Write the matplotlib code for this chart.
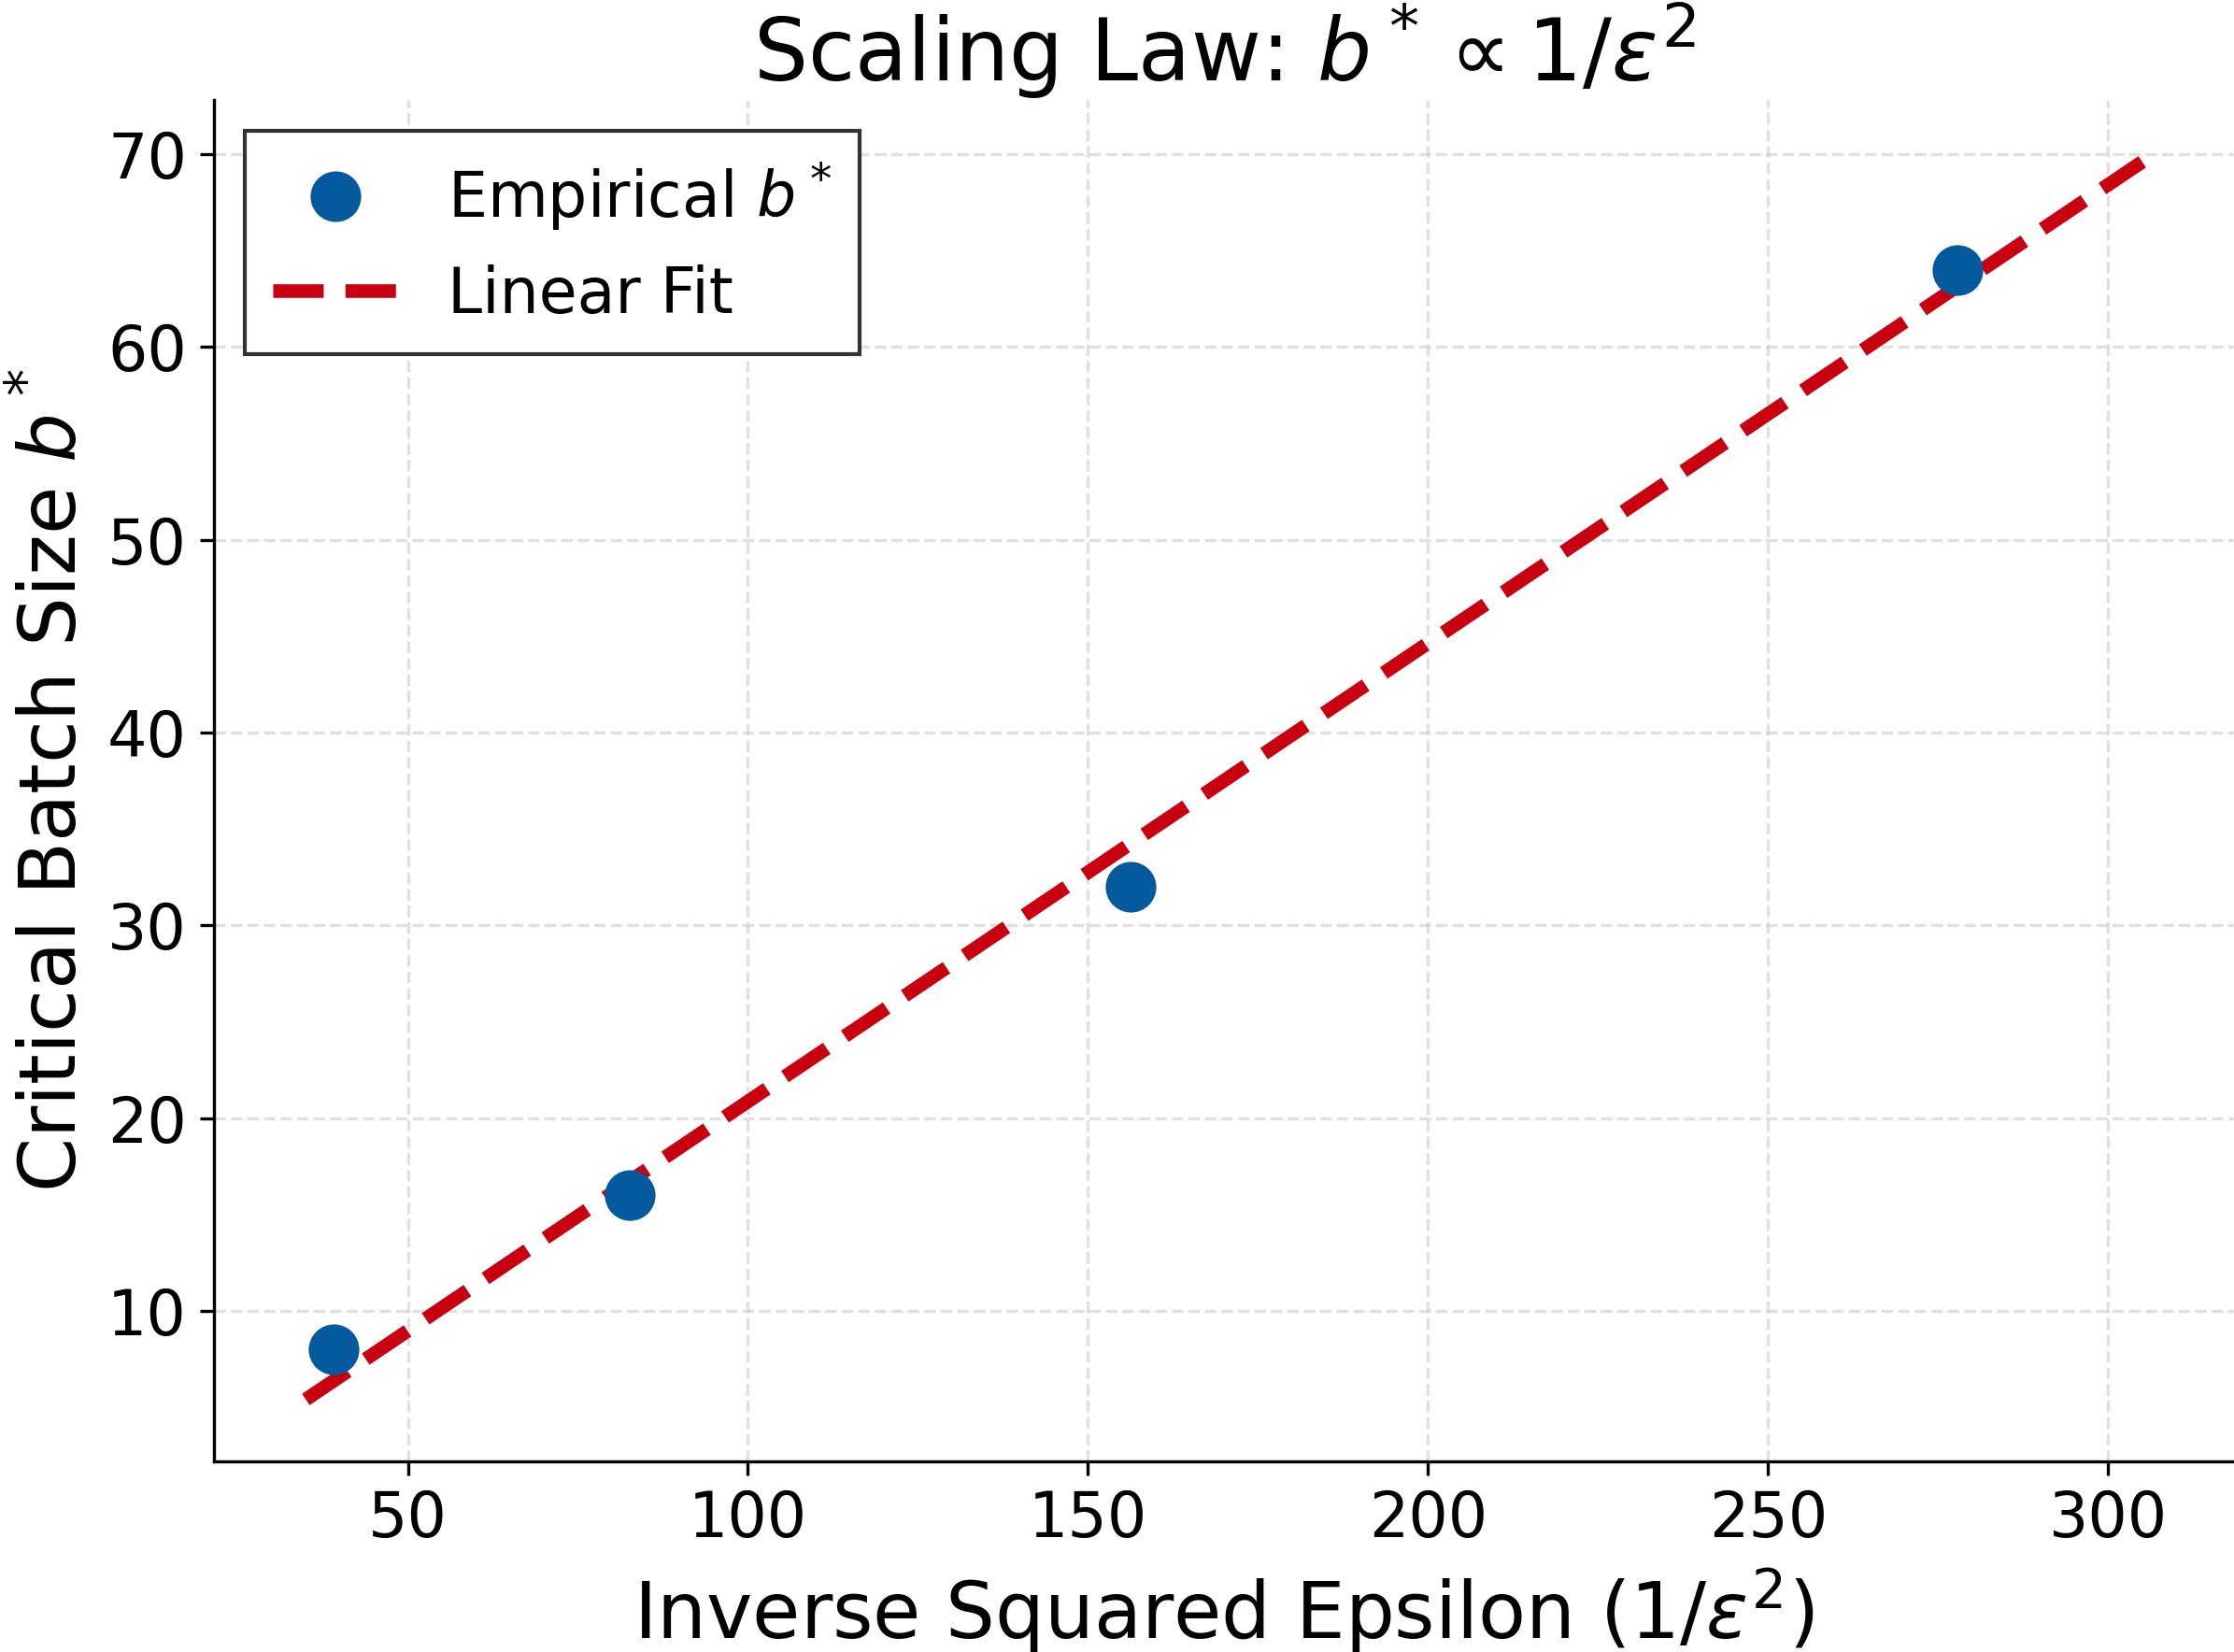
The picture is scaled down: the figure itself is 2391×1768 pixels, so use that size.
# critical batch size vs inverse squared epsilon, with linear fit

import numpy as np
import matplotlib
matplotlib.use('Agg')
import matplotlib.pyplot as plt

# empirical critical batch sizes
inv_eps2 = [39.06, 82.64, 156.25, 277.78]   # 1/eps^2
b_star = [8, 16, 32, 64]

# linear fit line (end points)
fit_x = [35.0, 305.0]
fit_y = [5.4, 69.6]

blue = '#045a9c'
red = '#c8000f'

fig = plt.figure(figsize=(2391/300, 1768/300), dpi=300)
ax = fig.add_subplot(111)
fig.subplots_adjust(left=0.0958, right=1.0, bottom=0.1154, top=0.9395)

ax.plot(inv_eps2, b_star, linewidth=0, marker='o', markersize=12, color=blue,
        label=r'Empirical $b^*$', zorder=3)
ax.plot(fit_x, fit_y, '--', color=red, linewidth=3.5, label='Linear Fit', zorder=2)

ax.set_title(r'Scaling Law: $b^* \propto 1/\varepsilon^2$', fontsize=22, pad=4)
ax.set_xlabel(r'Inverse Squared Epsilon ($1/\varepsilon^2$)', fontsize=20)
ax.set_ylabel(r'Critical Batch Size $b^*$', fontsize=20)
ax.tick_params(labelsize=16)

ax.set_xticks([50, 100, 150, 200, 250, 300])
ax.set_yticks([10, 20, 30, 40, 50, 60, 70])
ax.grid(True, linestyle='--', color='#cccccc', alpha=0.6, linewidth=0.8)
ax.set_axisbelow(True)
ax.spines['top'].set_visible(False)
ax.spines['right'].set_visible(False)

leg = ax.legend(loc='upper left', fontsize=16, fancybox=False, framealpha=1,
                edgecolor='#333333', borderpad=0.45, labelspacing=0.5)
leg.get_frame().set_linewidth(1.0)

plt.savefig('out.png', dpi=300)
